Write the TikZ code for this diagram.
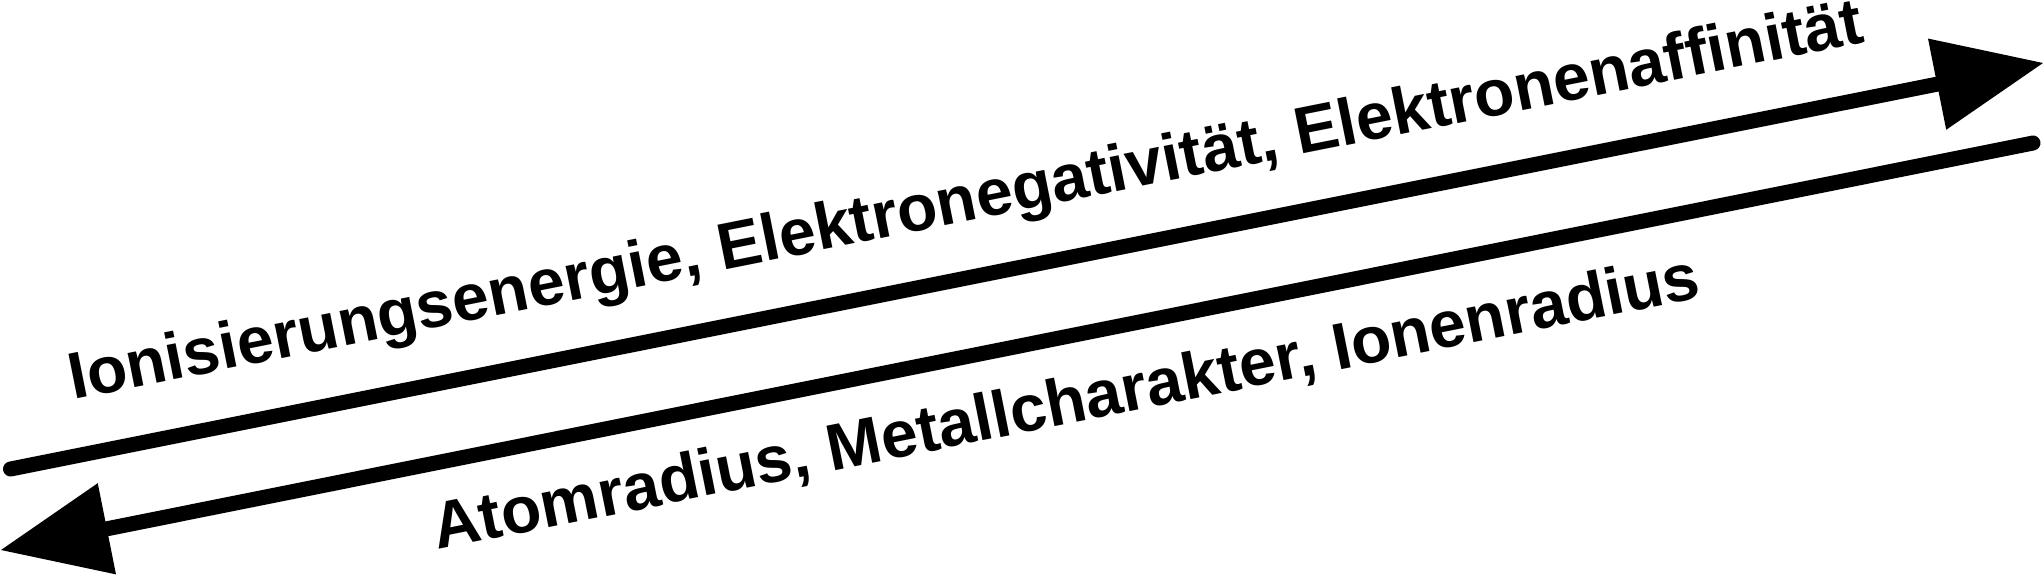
\documentclass[tikz,border=0pt]{standalone}
\usepackage{fontspec}
\setmainfont{Liberation Sans}
\usetikzlibrary{arrows.meta}
\begin{document}
\begin{tikzpicture}[x=1pt,y=-1pt,
  bigarrow/.style={line width=15pt,line cap=round,
    -{Triangle[length=108pt,width=93pt,line width=0pt]}},
  label/.style={inner sep=0pt,anchor=base west,rotate=11.3,
    font=\fontsize{65.8}{79}\selectfont\bfseries}]
\useasboundingbox (0,0) rectangle (2043,577);
\coordinate (t1) at (10.5,469);
\coordinate (t2) at (2043,63);
\coordinate (b1) at (2033,143);
\coordinate (b2) at (1,550);
\draw[bigarrow] (t1) -- (t2);
\draw[bigarrow] (b1) -- (b2);
\node[label] (ttext) at (73,400) {Ionisierungsenergie, Elektronegativität, Elektronenaffinität};
\node[label] (btext) at (437,550) {Atomradius, Metallcharakter, Ionenradius};
\end{tikzpicture}
\end{document}
